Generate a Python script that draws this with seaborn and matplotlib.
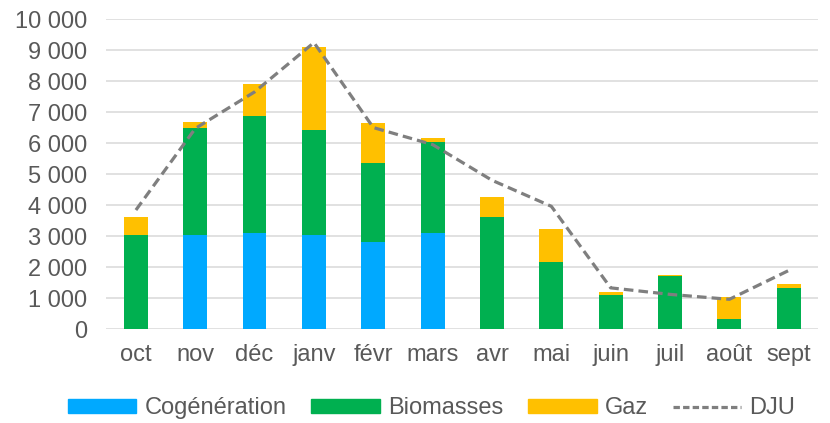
import numpy as np
import pandas as pd
import matplotlib
matplotlib.use("Agg")
import matplotlib.pyplot as plt
import seaborn as sns
from matplotlib.patches import Patch
from matplotlib.lines import Line2D
from matplotlib.ticker import FuncFormatter, MultipleLocator

# Monthly values
mois = ['oct', 'nov', 'déc', 'janv', 'févr', 'mars', 'avr', 'mai', 'juin', 'juil', 'août', 'sept']
cogeneration = [0, 3020, 3090, 3050, 2800, 3090, 0, 0, 0, 0, 0, 0]
biomasses = [3050, 3470, 3770, 3380, 2550, 2930, 3600, 2160, 1100, 1710, 330, 1320]
gaz = [560, 180, 1060, 2660, 1300, 140, 670, 1060, 100, 30, 700, 120]
dju = [3840, 6470, 7650, 9240, 6500, 5950, 4800, 3960, 1330, 1120, 960, 1890]

c_cog = '#00A9FF'
c_bio = '#00B050'
c_gaz = '#FFC000'
c_dju = '#7F7F7F'
c_txt = '#595959'

df = pd.DataFrame({'mois': mois, 'cog': cogeneration, 'bio': biomasses, 'gaz': gaz, 'dju': dju})
# cumulative heights for the stack (drawn back to front)
df['top_bio'] = df['cog'] + df['bio']
df['top_gaz'] = df['top_bio'] + df['gaz']

sns.set_style("white")
plt.rcParams['font.family'] = ['Liberation Sans', 'DejaVu Sans']

fig = plt.figure(figsize=(8.3, 4.23), dpi=100)
ax = fig.add_axes([0.128, 0.222, 0.858, 0.733])

bar_kw = dict(width=0.4, saturation=1, linewidth=0, errorbar=None, ax=ax)
sns.barplot(data=df, x='mois', y='top_gaz', color=c_gaz, **bar_kw)
sns.barplot(data=df, x='mois', y='top_bio', color=c_bio, **bar_kw)
sns.barplot(data=df, x='mois', y='cog', color=c_cog, **bar_kw)

sns.lineplot(x=df.index, y=df['dju'], color=c_dju, linewidth=2.3, ax=ax,
             linestyle=(0, (3, 1.6)), dash_capstyle='butt')

ax.set_ylim(0, 10000)
ax.set_xlim(-0.5, 11.5)
ax.yaxis.set_major_locator(MultipleLocator(1000))
ax.yaxis.set_major_formatter(FuncFormatter(lambda v, p: f"{int(v):,}".replace(",", " ")))
ax.grid(axis='y', color='#D9D9D9', linewidth=1.1)
ax.set_axisbelow(True)
for s in ax.spines.values():
    s.set_visible(False)
ax.set_xlabel('')
ax.set_ylabel('')
ax.tick_params(axis='y', length=0, pad=14, labelsize=17, labelcolor=c_txt)
ax.tick_params(axis='x', length=0, pad=11, labelsize=17, labelcolor=c_txt)

handles = [
    Patch(color=c_cog, label='Cogénération'),
    Patch(color=c_bio, label='Biomasses'),
    Patch(color=c_gaz, label='Gaz'),
    Line2D([0], [0], color=c_dju, linewidth=2.3, linestyle=(0, (2, 1)), label='DJU'),
]
fig.legend(handles=handles, loc='center', bbox_to_anchor=(0.52, 0.035), ncol=4,
           frameon=False, fontsize=17, labelcolor=c_txt, handlelength=2.9,
           handleheight=0.5, handletextpad=0.35, columnspacing=1.05)

fig.savefig('out.png', dpi=100)
